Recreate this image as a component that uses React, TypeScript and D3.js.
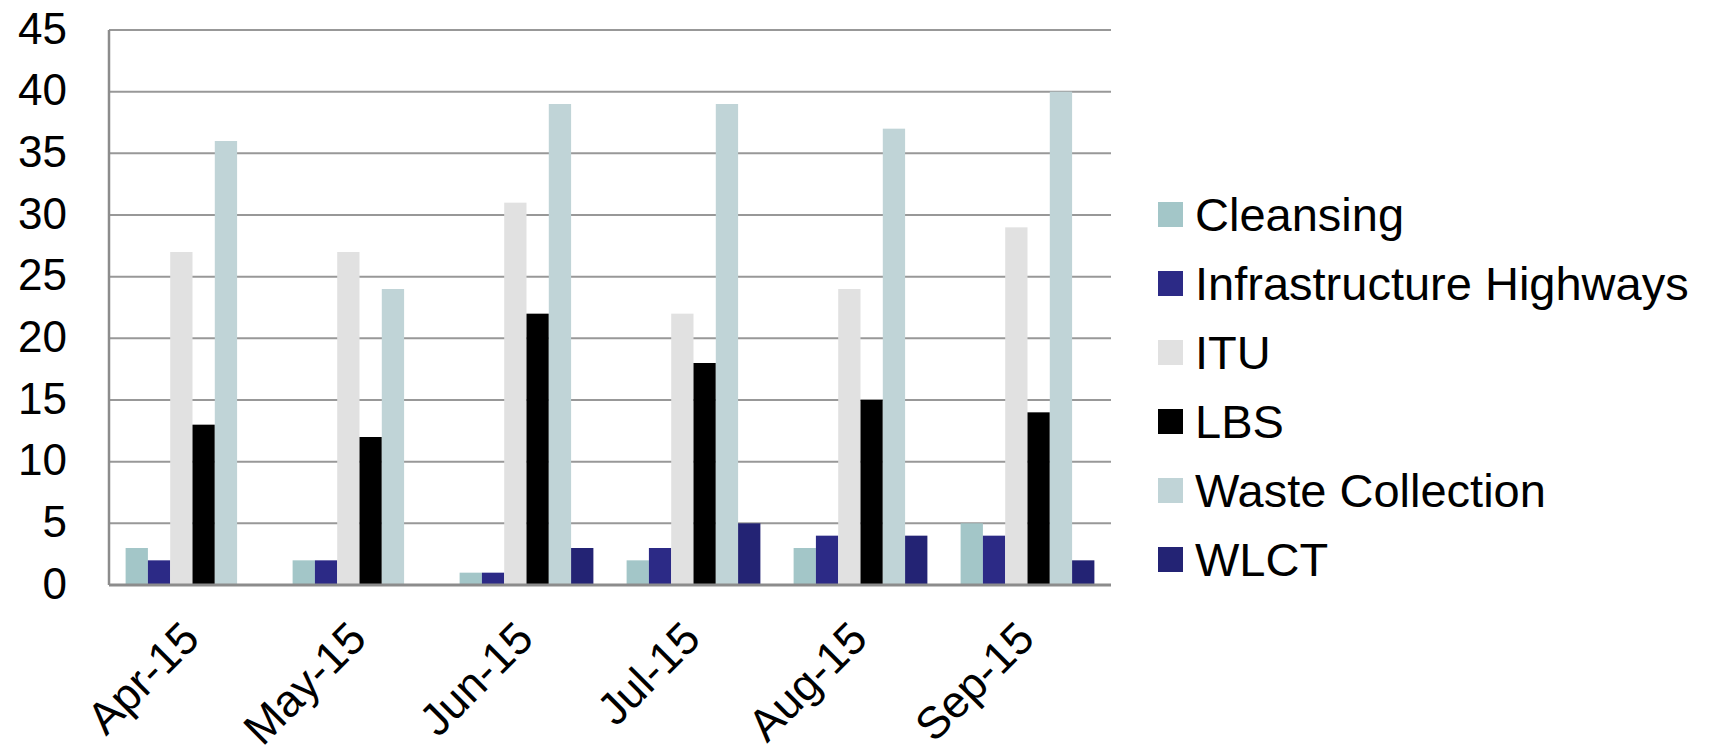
// grouped bar chart - monthly counts by service area

import { useEffect, useRef } from 'react';
import * as d3 from 'd3';

const months = ['Apr-15', 'May-15', 'Jun-15', 'Jul-15', 'Aug-15', 'Sep-15'];
const seriesNames = ['Cleansing', 'Infrastructure Highways', 'ITU', 'LBS', 'Waste Collection', 'WLCT'];
const seriesColors = ['#a3c6c8', '#2c2a86', '#e1e1e1', '#000000', '#c0d4d7', '#232374'];

const cleansing = [3, 2, 1, 2, 3, 5];
const infrastructureHighways = [2, 2, 1, 3, 4, 4];
const itu = [27, 27, 31, 22, 24, 29];
const lbs = [13, 12, 22, 18, 15, 14];
const wasteCollection = [36, 24, 39, 39, 37, 40];
const wlct = [0, 0, 3, 5, 4, 2];

const yTicks = [0, 5, 10, 15, 20, 25, 30, 35, 40, 45];

const seriesValues = [cleansing, infrastructureHighways, itu, lbs, wasteCollection, wlct];

const App: React.FC = () => {
  const svgRef = useRef<SVGSVGElement | null>(null);

  useEffect(() => {
    if (!svgRef.current) return;
    const svg = d3.select(svgRef.current);
    svg.selectAll('*').remove();

    const font = 'Liberation Sans, Arial, sans-serif';
    const margin = { top: 30, left: 109, right: 1111, bottom: 585 };

    const x0 = d3.scaleBand<string>()
      .domain(months)
      .range([margin.left, margin.right])
      .paddingInner(0)
      .paddingOuter(0);

    const x1 = d3.scaleBand<string>()
      .domain(seriesNames)
      .range([0, x0.bandwidth()])
      .paddingInner(0)
      .paddingOuter(0.745);

    const y = d3.scaleLinear()
      .domain([0, 45])
      .range([margin.bottom, margin.top]);

    const color = d3.scaleOrdinal<string, string>()
      .domain(seriesNames)
      .range(seriesColors);

    // gridlines
    svg.append('g')
      .selectAll('line')
      .data(yTicks.filter(t => t > 0))
      .join('line')
      .attr('x1', margin.left)
      .attr('x2', margin.right)
      .attr('y1', d => y(d))
      .attr('y2', d => y(d))
      .attr('stroke', '#989898')
      .attr('stroke-width', 2);

    // bars
    const groups = svg.append('g')
      .selectAll('g')
      .data(months)
      .join('g')
      .attr('transform', d => `translate(${x0(d)},0)`);

    groups.selectAll('rect')
      .data((_, i) => seriesNames.map((name, s) => ({ name, value: seriesValues[s][i] })))
      .join('rect')
      .attr('x', d => x1(d.name) as number)
      .attr('y', d => y(d.value))
      .attr('width', x1.bandwidth())
      .attr('height', d => y(0) - y(d.value))
      .attr('fill', d => color(d.name));

    // axis lines
    svg.append('line')
      .attr('x1', margin.left).attr('x2', margin.left)
      .attr('y1', margin.top).attr('y2', margin.bottom)
      .attr('stroke', '#8c8c8c').attr('stroke-width', 2.5);
    svg.append('line')
      .attr('x1', margin.left).attr('x2', margin.right)
      .attr('y1', margin.bottom).attr('y2', margin.bottom)
      .attr('stroke', '#8c8c8c').attr('stroke-width', 3);

    // y tick labels
    svg.append('g')
      .attr('font-family', font)
      .attr('font-size', 44)
      .attr('text-anchor', 'end')
      .selectAll('text')
      .data(yTicks)
      .join('text')
      .attr('x', 67)
      .attr('y', d => y(d))
      .attr('dy', '0.31em')
      .text(d => d);

    // x labels, rotated
    svg.append('g')
      .attr('font-family', font)
      .attr('font-size', 45)
      .attr('text-anchor', 'end')
      .selectAll('text')
      .data(months)
      .join('text')
      .attr('transform', d => {
        const cx = (x0(d) as number) + x0.bandwidth() / 2 - 2;
        return `translate(${cx},${margin.bottom + 45}) rotate(-45)`;
      })
      .attr('dy', '0.35em')
      .text(d => d);

    // legend
    const legend = svg.append('g')
      .attr('font-family', font)
      .attr('font-size', 47)
      .selectAll('g')
      .data(seriesNames)
      .join('g')
      .attr('transform', (_, i) => `translate(1158,${214.5 + i * 69})`);

    legend.append('rect')
      .attr('x', 0)
      .attr('y', -12.5)
      .attr('width', 25)
      .attr('height', 25)
      .attr('fill', d => color(d));

    legend.append('text')
      .attr('x', 37)
      .attr('y', 0)
      .attr('dy', '0.36em')
      .text(d => d);
  }, []);

  return (
    <svg
      ref={svgRef}
      width="1710"
      height="756"
      style={{ position: 'absolute', left: 0, top: 0, background: '#fff' }}
    ></svg>
  );
};

export default App;
